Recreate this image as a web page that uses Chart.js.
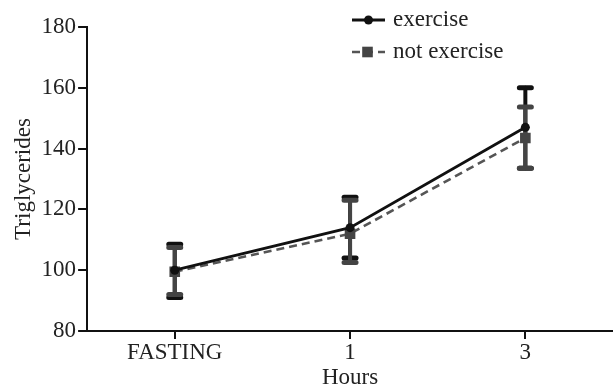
<!DOCTYPE html>
<html>
<head>
<meta charset="utf-8">
<script src="https://cdn.jsdelivr.net/npm/chart.js@4/dist/chart.umd.min.js"></script>
<style>
    html, body { margin: 0; padding: 0; background: #fff; }
    #wrap { width: 613px; height: 389px; }
</style>
</head>
<body>
<div id="wrap"><canvas id="chart" width="613" height="389"></canvas></div>
<script>
// ---- data ----
const hours = ["FASTING", "1", "3"];
const exerciseMean = [100, 114, 147];
const exerciseLow = [91, 104, 133.5];
const exerciseHigh = [108.5, 124, 160];
const notExerciseMean = [99.5, 112, 143.5];
const notExerciseLow = [92, 102.5, 133.5];
const notExerciseHigh = [107.5, 123, 153.7];
const yTicks = [80, 100, 120, 140, 160, 180];

const serif = "'Liberation Serif', 'DejaVu Serif', serif";

// error bars drawn with the chart scales
const errorBars = {
    id: "errorBars",
    beforeDatasetsDraw(chart) {
        const { ctx, scales: { x, y } } = chart;
        chart.data.datasets.forEach(ds => {
            ctx.save();
            ctx.strokeStyle = ds.barColor;
            ctx.lineCap = "round";
            ds.low.forEach((lo, i) => {
                const px = x.getPixelForValue(i);
                const yl = y.getPixelForValue(lo);
                const yh = y.getPixelForValue(ds.high[i]);
                ctx.lineWidth = 4;
                ctx.beginPath();
                ctx.moveTo(px, yl);
                ctx.lineTo(px, yh);
                ctx.stroke();
                ctx.lineWidth = 5;
                ctx.beginPath();
                ctx.moveTo(px - 6, yl);
                ctx.lineTo(px + 6, yl);
                ctx.moveTo(px - 6, yh);
                ctx.lineTo(px + 6, yh);
                ctx.stroke();
            });
            ctx.restore();
        });
    }
};

// legend in the top middle: line + marker + label
const lineLegend = {
    id: "lineLegend",
    afterDraw(chart) {
        const { ctx } = chart;
        const x0 = 352, x1 = 385;
        chart.data.datasets.forEach((ds, i) => {
            const yy = 20 + i * 32;
            ctx.save();
            ctx.strokeStyle = ds.borderColor;
            ctx.fillStyle = ds.pointBackgroundColor;
            ctx.lineWidth = ds.borderWidth;
            ctx.setLineDash(ds.borderDash || []);
            ctx.beginPath();
            ctx.moveTo(x0, yy);
            ctx.lineTo(x1, yy);
            ctx.stroke();
            ctx.setLineDash([]);
            Chart.helpers.drawPoint(ctx, {
                pointStyle: ds.pointStyle,
                radius: ds.pointRadius,
                rotation: 0,
                borderWidth: 0
            }, (x0 + x1) / 2 - (i ? 1 : 0), yy);
            ctx.fillStyle = "#222";
            ctx.font = "23px " + serif;
            ctx.textBaseline = "middle";
            ctx.fillText(ds.label, 393, yy);
            ctx.restore();
        });
    }
};

new Chart(document.getElementById("chart"), {
    type: "line",
    data: {
        labels: hours,
        datasets: [
            {
                label: "exercise",
                data: exerciseMean,
                low: exerciseLow,
                high: exerciseHigh,
                barColor: "#111",
                borderColor: "#111",
                borderWidth: 2.8,
                pointStyle: "circle",
                pointRadius: 4.5,
                pointBackgroundColor: "#111",
                pointBorderWidth: 0,
                tension: 0
            },
            {
                label: "not exercise",
                data: notExerciseMean,
                low: notExerciseLow,
                high: notExerciseHigh,
                barColor: "#444",
                borderColor: "#555",
                borderWidth: 2.6,
                borderDash: [8, 5],
                pointStyle: "rect",
                pointRadius: 7.5,
                pointBackgroundColor: "#444",
                pointBorderWidth: 0,
                tension: 0
            }
        ]
    },
    options: {
        responsive: false,
        animation: false,
        layout: { autoPadding: false, padding: { top: 27, right: 0, left: 10, bottom: 0 } },
        plugins: {
            legend: { display: false },
            tooltip: { enabled: false }
        },
        scales: {
            x: {
                offset: true,
                // let the axis run to the right edge like the original
                afterFit: s => { s.paddingRight = 0; },
                grid: { drawOnChartArea: false, color: "#111", lineWidth: 2, tickLength: 8 },
                border: { display: true, color: "#111", width: 2 },
                ticks: { color: "#222", font: { family: serif, size: 23, lineHeight: 1 }, padding: 2 },
                title: { display: true, text: "Hours", color: "#222", font: { family: serif, size: 23, lineHeight: 1 }, padding: { top: 0, bottom: 0 } }
            },
            y: {
                min: 80,
                max: 180,
                afterBuildTicks: scale => { scale.ticks = yTicks.map(v => ({ value: v })); },
                grid: { drawOnChartArea: false, color: "#111", lineWidth: 2, tickLength: 9 },
                border: { display: true, color: "#111", width: 2 },
                ticks: { color: "#222", font: { family: serif, size: 23 }, padding: 2 },
                title: { display: true, text: "Triglycerides", color: "#222", font: { family: serif, size: 23 }, padding: { top: 0, bottom: 2 } }
            }
        }
    },
    plugins: [errorBars, lineLegend]
});
</script>
</body>
</html>
